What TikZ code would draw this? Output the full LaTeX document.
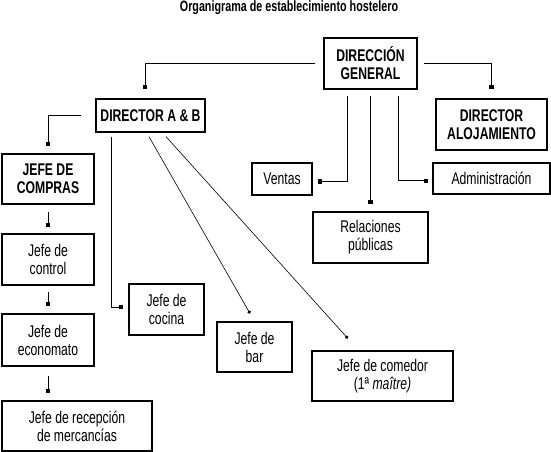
\documentclass[tikz,border=0pt]{standalone}
\usepackage{fontspec}
\setmainfont{Liberation Sans}[FakeStretch=0.72]
\usetikzlibrary{arrows.meta}
\begin{document}
\begin{tikzpicture}[x=1bp,y=-1bp,font=\fontsize{17}{18}\selectfont,
  caja/.style={draw,line width=1.3bp,align=center,inner sep=0pt},
  cajab/.style={caja,font=\bfseries\fontsize{17}{18}\selectfont},
  con/.style={line width=1bp,-{Square[length=4.5bp,width=4.5bp]}},
  diag/.style={line width=0.6bp,-{Circle[length=3.5bp]}}]
  \useasboundingbox (0,0) rectangle (551,452);
  % titulo
  \node[font=\bfseries\fontsize{15}{16}\selectfont] (tit) at (289,8) {Organigrama de establecimiento hostelero};
  % direccion
  \node[cajab,minimum width=93bp,minimum height=51bp] (dg) at (370.5,63.5) {DIRECCIÓN\\GENERAL};
  \node[cajab,minimum width=109bp,minimum height=33bp] (dab) at (150.5,115.5) {DIRECTOR A \& B};
  \node[cajab,minimum width=111bp,minimum height=51bp] (dal) at (491.5,124.5) {DIRECTOR\\ALOJAMIENTO};
  % columna izquierda
  \node[cajab,minimum width=92bp,minimum height=50bp] (jc) at (48,179) {JEFE DE\\COMPRAS};
  \node[caja,minimum width=92bp,minimum height=51bp] (jctl) at (48,259.5) {Jefe de\\control};
  \node[caja,minimum width=92bp,minimum height=52bp] (jeco) at (48,340) {Jefe de\\economato};
  \node[caja,minimum width=150bp,minimum height=50bp] (jrec) at (77,426) {Jefe de recepción\\de mercancías};
  % A & B
  \node[caja,minimum width=75bp,minimum height=51bp] (jcoc) at (166.5,309.5) {Jefe de\\cocina};
  \node[caja,minimum width=75bp,minimum height=50bp] (jbar) at (254.5,347) {Jefe de\\bar};
  \node[caja,minimum width=141bp,minimum height=50bp] (jcom) at (382.5,376) {Jefe de comedor\\(1ª \textit{maître)}};
  % staff
  \node[caja,minimum width=60bp,minimum height=32bp] (ven) at (282,179) {Ventas};
  \node[caja,minimum width=115bp,minimum height=51bp] (rp) at (370.5,237.5) {Relaciones\\públicas};
  \node[caja,minimum width=117bp,minimum height=31bp] (adm) at (491.5,178.5) {Administración};
  % conexiones
  \draw[con,shorten <=8bp,shorten >=9bp] (dg.west) -| ([xshift=-5.5bp]dab.north);
  \draw[con,shorten <=6bp,shorten >=9bp] (dg.east) -| (dal.north);
  \draw[con,shorten <=14bp,shorten >=7bp] (dab.west) -| (jc.north);
  \draw[con,shorten <=7bp,shorten >=6bp] (jc.south) -- (jctl.north);
  \draw[con,shorten <=6bp,shorten >=7bp] (jctl.south) -- (jeco.north);
  \draw[con,shorten <=9bp,shorten >=7bp] (jeco.south) -- (jeco.south |- jrec.north);
  \draw[con,shorten <=4bp,shorten >=5bp] ([xshift=16bp]dab.south west) |- ([yshift=2.5bp]jcoc.west);
  \draw[diag,shorten <=4.6bp,shorten >=9bp] ([xshift=-3.8bp]dab.south) -- (jbar.north);
  \draw[diag,shorten <=5.4bp,shorten >=16bp] ([xshift=11.9bp]dab.south) -- ([xshift=-23.9bp]jcom.north);
  \draw[con,shorten <=6bp,shorten >=5bp] ([xshift=-23.5bp]dg.south) |- ([yshift=-2.7bp]ven.east);
  \draw[con,shorten <=6bp,shorten >=7bp] (dg.south) -- (rp.north);
  \draw[con,shorten <=6bp,shorten >=4bp] ([xshift=27.5bp]dg.south) |- ([yshift=-2.5bp]adm.west);
\end{tikzpicture}
\end{document}
